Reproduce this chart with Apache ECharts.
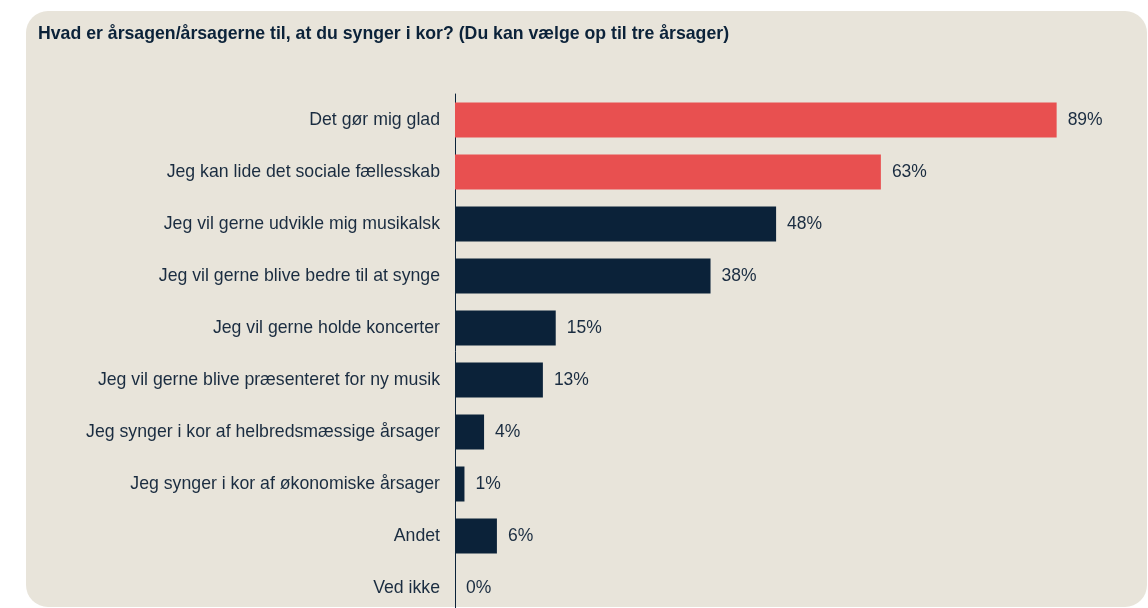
<!DOCTYPE html>
<html>
<head>
<meta charset="utf-8">
<script src="https://cdn.jsdelivr.net/npm/echarts@6/dist/echarts.min.js"></script>
<style>
  html, body { margin: 0; padding: 0; background: #fff; }
  #chart { width: 1148px; height: 608px; }
</style>
</head>
<body>
<div id="chart"></div>
<script>
const titleText = 'Hvad er årsagen/årsagerne til, at du synger i kor? (Du kan vælge op til tre årsager)';

const categories = [
  'Det gør mig glad',
  'Jeg kan lide det sociale fællesskab',
  'Jeg vil gerne udvikle mig musikalsk',
  'Jeg vil gerne blive bedre til at synge',
  'Jeg vil gerne holde koncerter',
  'Jeg vil gerne blive præsenteret for ny musik',
  'Jeg synger i kor af helbredsmæssige årsager',
  'Jeg synger i kor af økonomiske årsager',
  'Andet',
  'Ved ikke'
];
// share of respondents, %
const values = [89, 63, 47.5, 37.8, 14.9, 13, 4.3, 1.4, 6.2, 0];
const highlighted = [true, true, false, false, false, false, false, false, false, false];

const RED = '#E85050';
const NAVY = '#0B2239';
const TEXT = '#1A2C40';

const chart = echarts.init(document.getElementById('chart'));

const option = {
  backgroundColor: '#fff',
  animation: false,
  textStyle: { fontFamily: 'Liberation Sans, Arial, sans-serif' },
  graphic: [
    {
      type: 'rect',
      z: -10,
      shape: { x: 26, y: 11, width: 1121, height: 596, r: 22 },
      style: { fill: '#E8E4DA' }
    },
    {
      type: 'text',
      left: 38,
      top: 25,
      style: {
        text: titleText,
        fill: NAVY,
        font: 'bold 17.7px "Liberation Sans", Arial, sans-serif'
      }
    }
  ],
  grid: { left: 455, right: 17, top: 94, height: 520, outerBoundsMode: 'none' },
  xAxis: {
    type: 'value',
    min: 0,
    max: 100,
    show: false
  },
  yAxis: {
    type: 'category',
    inverse: true,
    data: categories,
    axisLine: { show: true, lineStyle: { color: NAVY, width: 1 } },
    axisTick: { show: false },
    axisLabel: { color: TEXT, fontSize: 17.7, margin: 15 }
  },
  series: [
    {
      type: 'bar',
      barWidth: 35,
      data: values.map((v, i) => ({
        value: v,
        itemStyle: { color: highlighted[i] ? RED : NAVY }
      })),
      label: {
        show: true,
        position: 'right',
        distance: 11,
        color: TEXT,
        fontSize: 17.5,
        formatter: p => Math.round(p.value) + '%'
      }
    }
  ]
};

chart.setOption(option);
</script>
</body>
</html>
